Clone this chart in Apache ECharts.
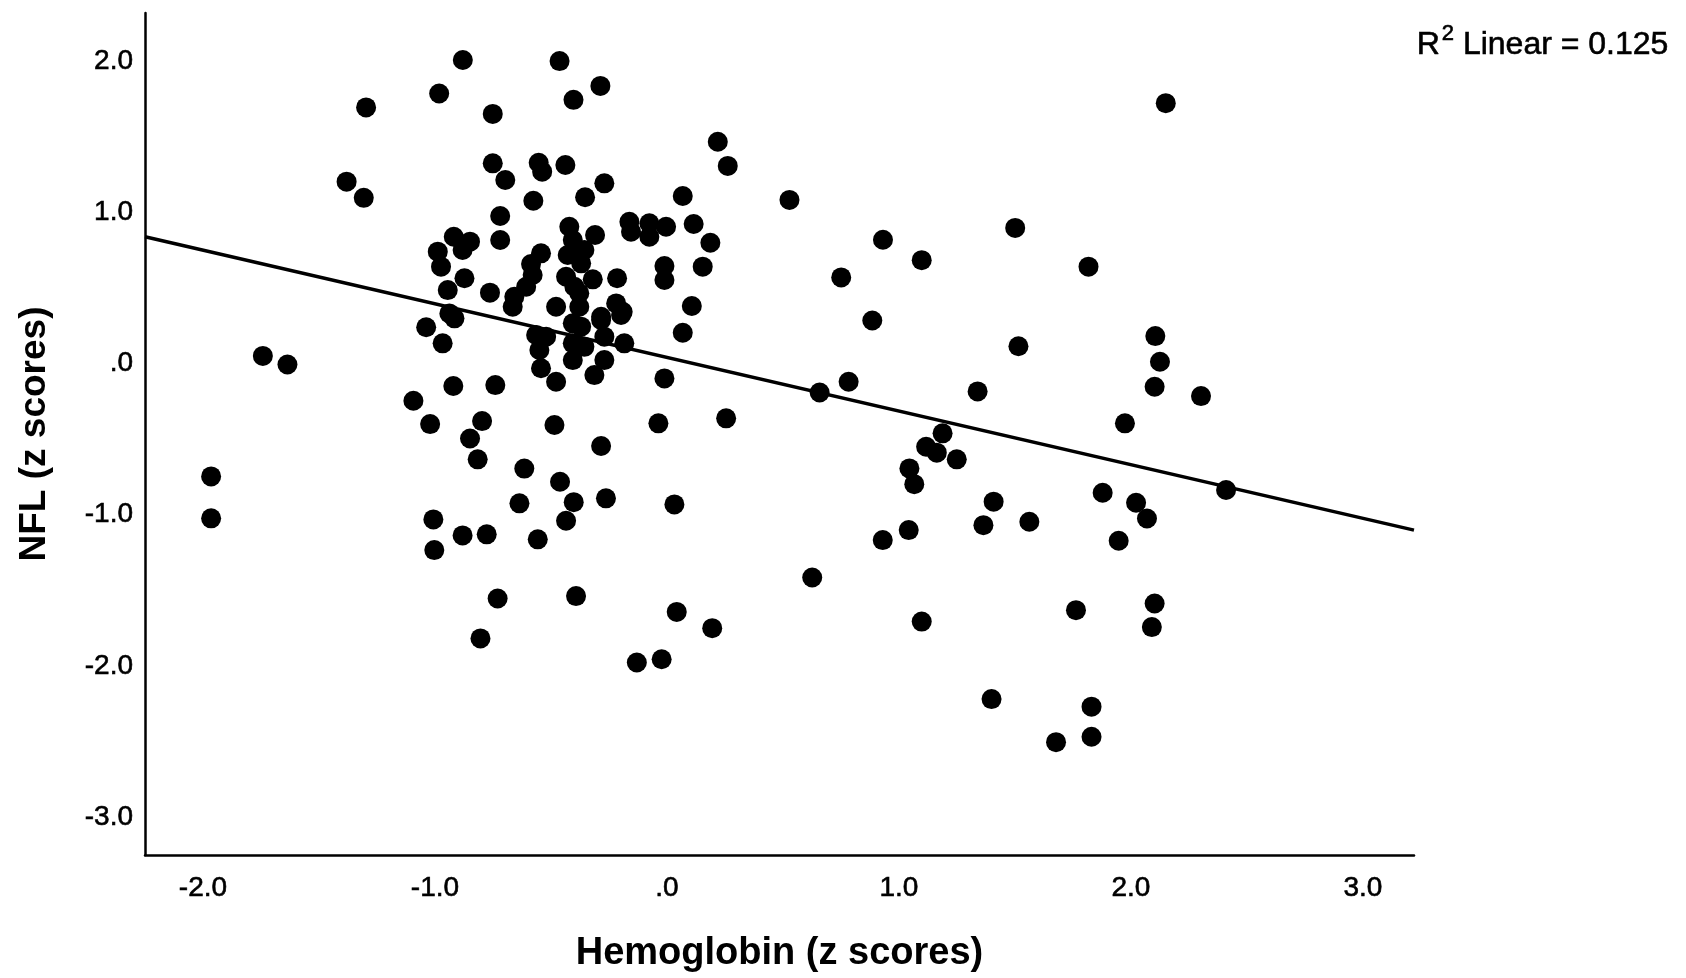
<!DOCTYPE html>
<html>
<head>
<meta charset="utf-8">
<script src="https://cdn.jsdelivr.net/npm/echarts@6/dist/echarts.min.js"></script>
<style>
html,body{margin:0;padding:0;background:#fff;}
#chart{width:1686px;height:978px;}
</style>
</head>
<body>
<div id="chart"></div>
<script>
// Hemoglobin z scores (x) and NFL z scores (y)
const hemoglobin = [
-1.965,-1.965,-1.742,-1.636,-1.381,-1.307,-1.297,-1.093,-1.021,-1.007,
-1.003,-1.038,-0.982,-0.880,-0.881,-0.777,-0.804,-0.730,-0.849,-0.816,
-0.797,-0.921,-0.740,-0.751,-0.615,-0.636,-0.557,-0.461,-0.485,-0.435,
-0.402,-0.392,-0.463,-0.287,-0.403,-0.263,-0.284,-0.130,-0.023,0.042,
0.195,0.032,-0.037,-0.011,0.255,0.219,0.262,0.068,0.107,0.068,
0.154,0.187,0.115,
-0.751,-0.697,-0.553,-0.538,-0.438,-0.576,-0.719,-0.719,-0.919,-0.849,
-0.881,-0.988,-0.974,-0.873,-0.945,-0.763,-0.543,-0.586,-0.579,-0.607,
-0.658,-0.665,-0.478,-0.421,-0.406,-0.428,-0.435,-0.399,-0.938,-0.353,
-0.270,-0.162,-0.155,-0.076,-0.076,-0.004,-0.011,-0.011,-0.310,-0.356,
-0.370,-0.320,-0.215,-0.378,-0.378,-0.219,-0.191,-0.284,
-0.916,-0.967,-0.406,-0.406,-0.406,-0.564,-0.521,-0.550,-0.543,-0.478,
-0.370,-0.284,-0.198,-0.270,-0.184,-0.270,-0.313,-0.356,
0.528,0.751,0.658,0.783,0.626,0.885,0.931,1.098,0.930,1.042,
1.045,1.066,1.117,1.163,1.188,1.249,1.098,1.339,1.364,1.408,
1.399,1.501,1.515,1.562,1.677,1.763,1.817,1.830,1.830,1.878,
1.947,1.974,2.022,2.069,2.105,2.125,2.102,2.102,2.090,2.150,
2.302,2.410
];
const nfl = [
-0.747,-1.024,0.050,-0.007,1.202,1.095,1.693,-0.247,-0.401,-1.031,
-1.234,0.239,1.785,2.006,-1.137,-1.130,-1.818,-1.554,-0.496,-0.634,
-0.381,-0.149,-0.143,1.650,-0.695,-0.925,-1.163,-0.782,-0.407,-1.040,
-0.917,-1.538,1.999,1.835,1.743,-0.892,-0.546,-1.977,-1.956,-1.643,
-1.750,-0.932,-0.396,-0.099,-0.363,1.466,1.306,1.107,0.380,0.203,
0.640,0.798,0.922,
1.323,1.213,1.327,1.268,1.312,1.076,0.975,0.816,0.838,0.805,
0.750,0.739,0.640,0.563,0.485,0.468,0.728,0.657,0.585,0.507,
0.441,0.375,0.375,0.904,0.816,0.717,0.573,0.507,0.331,1.099,
1.191,0.937,0.871,0.927,0.838,0.904,0.644,0.552,0.849,0.750,
0.662,0.556,0.563,0.464,0.375,0.397,0.342,0.309,
0.298,0.133,0.265,0.133,0.022,0.188,0.177,0.089,-0.032,-0.121,
0.243,0.287,0.320,0.177,0.133,0.022,-0.077,0.110,
1.081,0.569,-0.192,-0.121,-1.415,0.284,0.818,0.683,-1.168,-1.102,
-0.694,-0.798,-0.551,-0.590,-0.462,-0.634,-1.707,-0.185,-1.069,-0.914,
-2.219,0.896,0.114,-1.047,-2.504,-1.631,0.640,-2.269,-2.468,-0.855,
-1.172,-0.396,-0.921,-1.025,0.181,0.011,-0.154,-1.587,-1.743,1.721,
-0.216,-0.837
];
// Fit line endpoints
const fitX = [-2.25, 3.22];
const fitY = [0.838, -1.102];
const xTicks = [-2, -1, 0, 1, 2, 3];
const yTicks = [-3, -2, -1, 0, 1, 2];
const xTitle = 'Hemoglobin (z scores)';
const yTitle = 'NFL (z scores)';
const r2Text = '0.125';

const points = hemoglobin.map((x, i) => [x, nfl[i]]);
const fitLine = fitX.map((x, i) => [x, fitY[i]]);
const fmt = v => (v === 0 ? '.0' : v.toFixed(1));
const FONT = '"Liberation Sans", Arial, sans-serif';
const heavy = { textBorderColor: '#000', textBorderWidth: 0.6 };

const chart = echarts.init(document.getElementById('chart'));
chart.setOption({
  animation: false,
  backgroundColor: '#fff',
  title: {
    right: 12,
    top: 18,
    text: '{a|R}{s|2}{a| Linear = ' + r2Text + '}',
    textStyle: {
      fontWeight: 'normal',
      rich: {
        a: Object.assign({ fontFamily: FONT, fontSize: 32, fontWeight: 'normal', color: '#000', verticalAlign: 'bottom', lineHeight: 38 }, heavy),
        s: Object.assign({ fontFamily: FONT, fontSize: 22, fontWeight: 'normal', color: '#000', verticalAlign: 'top', padding: [0, 0, 14, 2], lineHeight: 38 }, heavy)
      }
    }
  },
  grid: { left: 145, right: 272, top: 13, bottom: 123 },
  xAxis: {
    type: 'value',
    min: -2.25,
    max: 3.22,
    name: xTitle,
    nameLocation: 'middle',
    nameGap: 80,
    nameTextStyle: { fontFamily: FONT, fontSize: 38, fontWeight: 'bold', color: '#000' },
    axisLine: { show: true, onZero: false, lineStyle: { color: '#000', width: 2.5 } },
    axisTick: { show: false },
    splitLine: { show: false },
    axisLabel: Object.assign({
      customValues: xTicks,
      formatter: fmt,
      fontFamily: FONT, fontSize: 28, color: '#000', margin: 19
    }, heavy)
  },
  yAxis: {
    type: 'value',
    min: -3.25,
    max: 2.317,
    name: yTitle,
    nameLocation: 'middle',
    nameGap: 92,
    nameTextStyle: { fontFamily: FONT, fontSize: 37, fontWeight: 'bold', color: '#000' },
    axisLine: { show: true, onZero: false, lineStyle: { color: '#000', width: 2.5 } },
    axisTick: { show: false },
    splitLine: { show: false },
    axisLabel: Object.assign({
      customValues: yTicks,
      formatter: fmt,
      fontFamily: FONT, fontSize: 28, color: '#000', margin: 12
    }, heavy)
  },
  series: [
    {
      type: 'scatter',
      data: points,
      symbol: 'circle',
      symbolSize: 20,
      itemStyle: { color: '#000', opacity: 1 },
      z: 2
    },
    {
      type: 'line',
      data: fitLine,
      showSymbol: false,
      symbol: 'none',
      lineStyle: { color: '#000', width: 3.5 },
      z: 3
    }
  ]
});
</script>
</body>
</html>
